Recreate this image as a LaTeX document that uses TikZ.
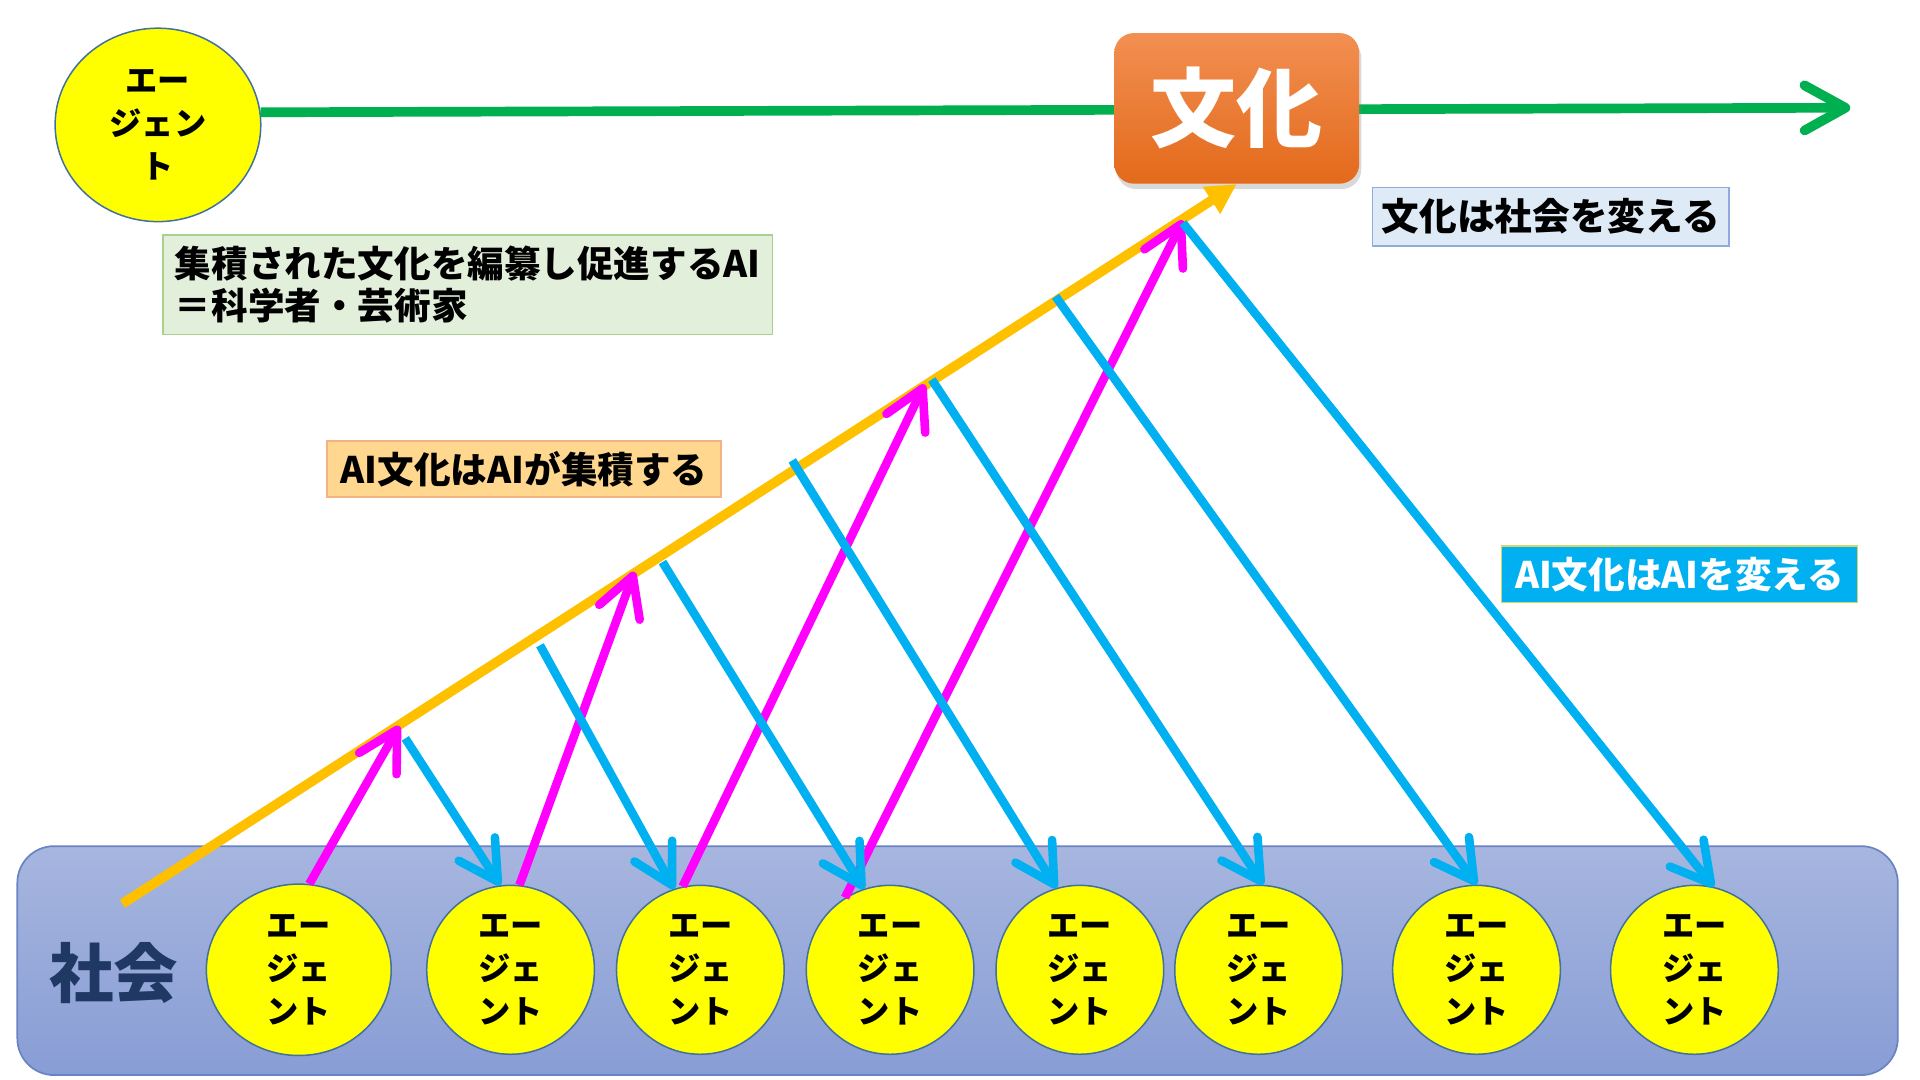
\documentclass[tikz,border=0pt]{standalone}
\usepackage{fontspec}
\setmainfont{Noto Sans CJK JP}
\usepackage{tikz}
\usetikzlibrary{arrows.meta,shapes.geometric,shadows}

\definecolor{agentfill}{HTML}{FFFF00}
\definecolor{agentline}{HTML}{41719C}
\definecolor{timegreen}{HTML}{00B050}
\definecolor{aigold}{HTML}{FFC000}
\definecolor{upmagenta}{HTML}{FF00FF}
\definecolor{downblue}{HTML}{00B0F0}
\definecolor{culttop}{HTML}{F28F52}
\definecolor{cultbottom}{HTML}{E36A1B}
\definecolor{soctop}{HTML}{A7B6DF}
\definecolor{socbottom}{HTML}{889DD5}
\definecolor{socline}{HTML}{6A83C3}
\definecolor{socnavy}{HTML}{1F3864}
\definecolor{boxgreen}{HTML}{E2EFDA}
\definecolor{boxgreenline}{HTML}{A9D18E}
\definecolor{boxblue}{HTML}{DEEBF7}
\definecolor{boxblueline}{HTML}{8FAADC}
\definecolor{boxpeach}{HTML}{FFD78E}
\definecolor{boxpeachline}{HTML}{F4B183}
\definecolor{aiboxline}{HTML}{D2D86A}

\begin{document}
\begin{tikzpicture}[
        x=0.02cm, y=-0.02cm,
        node distance=3.1cm,
        agent/.style={
            ellipse, draw=agentline, line width=0.7pt, fill=agentfill,
            inner sep=0pt, minimum width=2.74cm, minimum height=2.76cm,
            align=center, font=\fontsize{15}{20}\selectfont\bfseries
        },
        notebox/.style={
            rectangle, line width=0.7pt, inner sep=0pt,
            minimum height=0.92cm, font=\fontsize{17}{19.5}\selectfont\bfseries
        },
        barb/.style={-{Straight Barb[length=18pt, width=20pt, round]}},
        uparrow/.style={barb, draw=upmagenta, line width=4pt},
        downarrow/.style={barb, draw=downblue, line width=4pt}
    ]
    \useasboundingbox (0,0) rectangle (1568,882);

    % 社会
    \node[rectangle, rounded corners=0.6cm, draw=socline, line width=0.8pt,
          top color=soctop, bottom color=socbottom,
          minimum width=30.72cm, minimum height=3.74cm] (soc) at (782,784.5) {};
    \node[text=socnavy, font=\fontsize{30}{32}\selectfont\bfseries] (socname) at (93,795) {社会};

    % エージェント
    \node[agent, minimum width=3.36cm, minimum height=3.16cm] (ag0) at (129,102) {エー\\ジェン\\ト};
    \node[agent, minimum width=3.02cm, minimum height=2.8cm] (a1) at (244,792) {エー\\ジェ\\ント};
    \node[agent, right of=a1, node distance=3.46cm] (a2) {エー\\ジェ\\ント};
    \node[agent, right of=a2] (a3) {エー\\ジェ\\ント};
    \node[agent, right of=a3] (a4) {エー\\ジェ\\ント};
    \node[agent, right of=a4] (a5) {エー\\ジェ\\ント};
    \node[agent, right of=a5, node distance=2.92cm] (a6) {エー\\ジェ\\ント};
    \node[agent, right of=a6, node distance=3.56cm] (a7) {エー\\ジェ\\ント};
    \node[agent, right of=a7, node distance=3.56cm] (a8) {エー\\ジェ\\ント};

    % 時間の流れ
    \coordinate (tend) at (1511,88);
    \draw[timegreen, line width=4.5pt, -{Straight Barb[length=19pt, width=21pt, round]}] (ag0.7) -- (tend);

    % 文化
    \node[rectangle, rounded corners=0.32cm, top color=culttop, bottom color=cultbottom,
          minimum width=4cm, minimum height=2.46cm, text=white,
          font=\fontsize{40}{40}\selectfont\bfseries,
          drop shadow={shadow xshift=1pt, shadow yshift=-2.5pt, opacity=0.3}] (cult) at (1010,88.5) {文化};

    % 説明
    \node[notebox, draw=boxgreenline, fill=boxgreen, minimum width=9.96cm,
          minimum height=1.62cm, align=left] (tsci) at (382,232.5) {集積された文化を編纂し促進するAI\\＝科学者・芸術家};
    \node[notebox, draw=boxblueline, fill=boxblue, minimum width=5.82cm, minimum height=0.96cm,
          font=\fontsize{17.5}{20}\selectfont\bfseries] (tsoc) at (1266.5,177) {文化は社会を変える};
    \node[notebox, draw=boxpeachline, fill=boxpeach, minimum width=6.44cm] (tgather) at (428,383) {AI文化はAIが集積する};
    \node[notebox, draw=aiboxline, fill=downblue, text=white, minimum width=5.82cm] (tchange) at (1371.5,469) {AI文化はAIを変える};

    % AI文化の蓄積
    \coordinate (ostart) at (100,738);
    \draw[aigold, line width=4.5pt, -{Triangle[length=14pt, width=14pt]}] (ostart) -- (cult.south);

    % 上向き
    \coordinate (p1) at (326,593);
    \coordinate (p2) at (518,467);
    \coordinate (p3) at (755,314);
    \coordinate (p4) at (966,180);
    \draw[uparrow] (a1.83) -- (p1);
    \draw[uparrow] (a2.84) -- (p2);
    \draw[uparrow] (a3.102) -- (p3);
    \draw[uparrow] (a4.122) -- (p4);

    % 下向き
    \coordinate (q1) at (331,603);
    \coordinate (q2) at (441,527);
    \coordinate (q3) at (541,459);
    \coordinate (q4) at (647,376);
    \coordinate (q5) at (761,310);
    \coordinate (q6) at (862,242);
    \coordinate (q7) at (966,182);
    \draw[downarrow] (q1) -- (a2.97);
    \draw[downarrow] (q2) -- (a3.108);
    \draw[downarrow] (q3) -- (a4.108);
    \draw[downarrow] (q4) -- (a5.106);
    \draw[downarrow] (q5) -- (a6.87);
    \draw[downarrow] (q6) -- (a7.90);
    \draw[downarrow] (q7) -- (a8.77);
\end{tikzpicture}
\end{document}
